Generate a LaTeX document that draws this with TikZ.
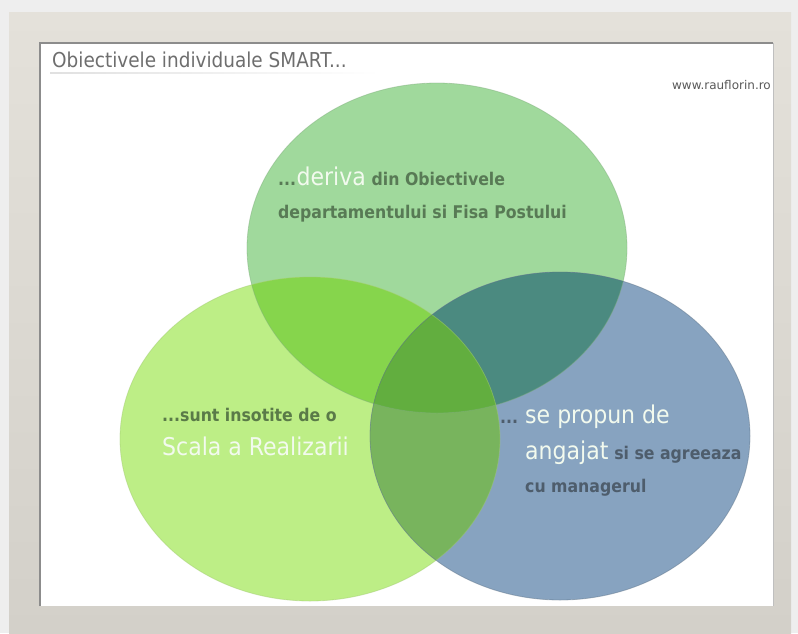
\documentclass[tikz,border=0pt]{standalone}
\usepackage{fontspec}
\setmainfont{DejaVu Sans}
\newfontfamily\cond{DejaVu Sans Condensed}
\definecolor{pagebg}{HTML}{EEEEEE}
\definecolor{frametop}{HTML}{E4E1DA}
\definecolor{framebot}{HTML}{D3D0C9}
\definecolor{cT}{HTML}{A0D99C}
\definecolor{cL}{HTML}{BDEE86}
\definecolor{cB}{HTML}{87A3C0}
\definecolor{cTL}{HTML}{86D54C}
\definecolor{cTB}{HTML}{4B8A80}
\definecolor{cLB}{HTML}{78B45D}
\definecolor{cTLB}{HTML}{62AE3F}
\definecolor{titlegray}{HTML}{6E6E6E}
\definecolor{darkT}{HTML}{587A55}
\definecolor{darkL}{HTML}{5A7A48}
\definecolor{darkB}{HTML}{4E5D6C}
\definecolor{whitetxt}{HTML}{F2FAEE}
\tikzset{
  txt/.style={inner sep=0pt, anchor=base west},
  darkbold/.style={txt, font=\cond\bfseries\fontsize{17.5}{20}\selectfont},
  whitebig/.style={txt, font=\cond\fontsize{24.5}{28}\selectfont, text=whitetxt},
  rim/.style={line width=0.8pt, draw opacity=0.45}
}
\def\ET{(437,248) ellipse [x radius=190, y radius=165]}
\def\EL{(310,439) ellipse [x radius=190, y radius=162]}
\def\EB{(560,436) ellipse [x radius=190, y radius=164]}
\begin{document}
\begin{tikzpicture}[x=1pt,y=-1pt]
\useasboundingbox (0,0) rectangle (798,633);
% background and frame
\fill[pagebg] (0,0) rectangle (798,633);
\shade[top color=frametop, bottom color=framebot] (9,12) rectangle (791,633);
\fill[white] (40,43) rectangle (773,606);
\draw[black!45, line width=1.2pt] (40,606) -- (40,43) -- (773,43);
\draw[black!25, line width=1pt] (773,43) -- (773,606);
\draw[white, line width=1pt] (41,605) -- (772,605);
\shade[left color=black!12, right color=white] (50,72.5) rectangle (380,73.5);
% title and url
\node[txt, font=\cond\fontsize{20.5}{24}\selectfont, text=titlegray] (title) at (52,67) {Obiectivele individuale SMART...};
\node[inner sep=0pt, anchor=base east, font=\fontsize{12}{14}\selectfont, text=black!65] (url) at (771,89) {www.rauflorin.ro};
% ellipses
\fill[cT] \ET;
\fill[cL] \EL;
\fill[cB] \EB;
\begin{scope}\clip \ET; \fill[cTL] \EL; \end{scope}
\begin{scope}\clip \ET; \fill[cTB] \EB; \end{scope}
\begin{scope}\clip \EL; \fill[cLB] \EB; \end{scope}
\begin{scope}\clip \ET; \clip \EL; \fill[cTLB] \EB; \end{scope}
\draw[rim, draw=cT!80!black] \ET;
\draw[rim, draw=cL!85!black] \EL;
\draw[rim, draw=cB!70!black] \EB;
% texts in top ellipse
\node[darkbold, text=darkT] (t1a) at (278,185) {...};
\node[whitebig] (t1b) at (t1a.base east) {deriva};
\node[darkbold, text=darkT] (t1c) at (t1b.base east) {\ din Obiectivele};
\node[darkbold, text=darkT] (t2) at (278,218) {departamentului si Fisa Postului};
% texts in left ellipse
\node[darkbold, text=darkL] (l1) at (162,421) {...sunt insotite de o};
\node[whitebig] (l2) at (162,455) {Scala a Realizarii};
% texts in blue ellipse
\node[darkbold, text=darkB] (b1a) at (500,423) {...};
\node[whitebig] (b1b) at (525,423) {se propun de};
\node[whitebig] (b2a) at (525,459) {angajat};
\node[darkbold, text=darkB] (b2b) at (b2a.base east) {\ si se agreeaza};
\node[darkbold, text=darkB] (b3) at (525,492) {cu managerul};
\end{tikzpicture}
\end{document}
